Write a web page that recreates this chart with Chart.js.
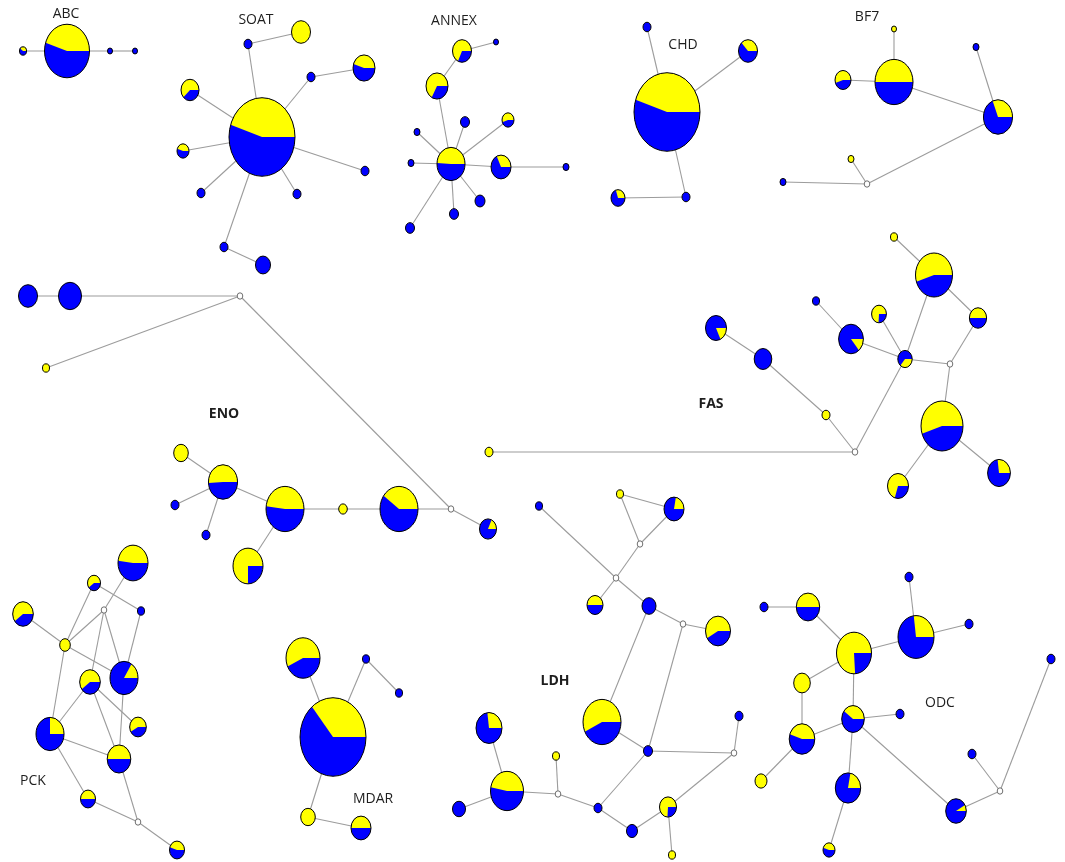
<!DOCTYPE html>
<html>
<head>
<meta charset="utf-8">
<title>Haplotype networks</title>
<script src="https://cdn.jsdelivr.net/npm/chart.js@4.4.1/dist/chart.umd.min.js"></script>
<style>
  html, body { margin: 0; padding: 0; background: #ffffff; }
  canvas { display: block; }
</style>
</head>
<body>
<canvas id="net" width="1065" height="862"></canvas>
<script>
// Haplotype networks, one per gene.
// Node rows: [x, y, size, yellow share (first sector), yellow share (last sector)]
// size 0 marks a median vector.

const ABC = [
  [67, 51, 22.5, 0.45, 0],
  [23, 51, 3.5, 0.4, 0],
  [110, 51, 2.5, 0, 0],
  [135, 51, 2.5, 0, 0]
];
const ABC_links = [[0,1],[0,2],[2,3]];

const SOAT = [
  [262, 137, 33, 0.45, 0],
  [248, 44, 4, 0, 0],
  [301, 32, 9.5, 1, 0],
  [311, 77, 4, 0, 0],
  [364, 68, 11, 0.45, 0],
  [190, 90, 9, 0.62, 0],
  [183, 151, 6, 0.45, 0],
  [201, 193, 4, 0, 0],
  [297, 194, 4, 0, 0],
  [365, 171, 4, 0, 0],
  [224, 247, 4, 0, 0],
  [263, 265, 7.5, 0, 0]
];
const SOAT_links = [[0,1],[1,2],[0,3],[3,4],[0,5],[0,6],[0,7],[0,8],[0,9],[0,10],[10,11]];

const ANNEX = [
  [451, 164, 14, 0.49, 0],
  [437, 86, 11, 0.67, 0],
  [462, 51, 9.5, 0.68, 0],
  [496, 42, 2.5, 0, 0],
  [465, 122, 4.5, 0, 0],
  [417, 132, 3, 0, 0],
  [508, 120, 6, 0.55, 0],
  [411, 163, 3, 0, 0],
  [501, 167, 10, 0.32, 0],
  [566, 167, 3, 0, 0],
  [480, 201, 5, 0, 0],
  [454, 214, 4.5, 0, 0],
  [410, 228, 4.5, 0, 0]
];
const ANNEX_links = [[0,1],[1,2],[2,3],[0,4],[0,5],[0,6],[0,7],[0,8],[8,9],[0,10],[0,11],[0,12]];

const CHD = [
  [667, 112, 33, 0.45, 0],
  [647, 27, 4, 0, 0],
  [748, 51, 9.5, 0.37, 0],
  [686, 197, 4, 0, 0],
  [618, 198, 7, 0.3, 0]
];
const CHD_links = [[0,1],[0,2],[0,3],[3,4]];

const BF7 = [
  [894, 82, 19, 0.5, 0],
  [894, 29, 2.5, 1, 0],
  [843, 80, 8, 0.55, 0],
  [998, 117, 14.5, 0.31, 0],
  [976, 47, 3, 0, 0],
  [867, 184, 0, 0, 0],
  [783, 182, 3, 0, 0],
  [851, 159, 3, 1, 0]
];
const BF7_links = [[0,1],[0,2],[0,3],[3,4],[3,5],[5,6],[5,7]];

const ENO = [
  [28, 296, 9.5, 0, 0],
  [70, 296, 11.5, 0, 0],
  [240, 296, 0, 0, 0],
  [46, 368, 3.5, 1, 0],
  [451, 509, 0, 0, 0],
  [488, 529, 8.5, 0.18, 0],
  [399, 509, 19, 0.4, 0],
  [343, 509, 4.3, 1, 0],
  [285, 509, 19, 0.48, 0],
  [223, 482, 14.5, 0.51, 0],
  [181, 453, 7.3, 1, 0],
  [175, 505, 4, 0, 0],
  [206, 535, 4, 0, 0],
  [248, 566, 15, 0.75, 0]
];
const ENO_links = [[0,1],[1,2],[2,3],[2,4],[4,5],[4,6],[6,7],[7,8],[8,9],[9,10],[9,11],[9,12],[8,13]];

const FAS = [
  [855, 452, 0, 0, 0],
  [489, 452, 4, 1, 0],
  [826, 415, 4, 1, 0],
  [763, 359, 8.8, 0, 0],
  [716, 328, 10.5, 0, 0.18],
  [905, 359, 7.2, 0, 0.36],
  [851, 339, 12.4, 0, 0.14],
  [816, 301, 3.5, 0, 0],
  [879, 314, 7.4, 0.74, 0],
  [934, 275, 18.5, 0.55, 0],
  [894, 237, 3.5, 1, 0],
  [978, 318, 8.6, 0.5, 0],
  [950, 364, 0, 0, 0],
  [942, 426, 21, 0.55, 0],
  [898, 486, 10.5, 0.7, 0],
  [999, 473, 11.4, 0.27, 0]
];
const FAS_links = [[0,1],[0,2],[2,3],[3,4],[0,5],[5,6],[6,7],[5,8],[5,9],[9,10],[9,11],[11,12],[5,12],[12,13],[13,14],[13,15]];

const LDH = [
  [539, 506, 3.5, 0, 0],
  [620, 494, 3.5, 1, 0],
  [674, 509, 10, 0.22, 0],
  [640, 544, 0, 0, 0],
  [616, 578, 0, 0, 0],
  [595, 605, 8, 0.5, 0],
  [649, 606, 7, 0, 0],
  [683, 624, 0, 0, 0],
  [718, 631, 12.5, 0.58, 0],
  [602, 722, 19, 0.57, 0],
  [648, 751, 4.5, 0, 0],
  [734, 753, 0, 0, 0],
  [739, 716, 4, 0, 0],
  [668, 807, 8.5, 0.74, 0],
  [672, 855, 3.5, 1, 0],
  [632, 831, 5.5, 0, 0],
  [598, 808, 4, 0, 0],
  [558, 794, 0, 0, 0],
  [556, 756, 3.5, 1, 0],
  [507, 791, 16.5, 0.47, 0],
  [489, 728, 13, 0.27, 0],
  [459, 809, 6.5, 0, 0]
];
const LDH_links = [[1,2],[1,3],[2,3],[3,4],[0,4],[4,5],[4,6],[6,7],[7,8],[6,9],[7,10],[9,10],[10,11],[11,12],[11,13],[13,14],[13,15],[15,16],[16,10],[16,17],[17,18],[17,19],[19,20],[19,21]];

const PCK = [
  [133, 563, 15, 0.48, 0],
  [94, 583, 6.5, 0.6, 0],
  [104, 610, 0, 0, 0],
  [141, 611, 3.5, 0, 0],
  [23, 614, 10.3, 0.6, 0],
  [65, 645, 5.3, 1, 0],
  [90, 682, 10.3, 0.6, 0],
  [124, 678, 14, 0.16, 0],
  [138, 727, 8.3, 0.58, 0],
  [50, 734, 14, 0.25, 0],
  [119, 759, 11.8, 0.5, 0],
  [88, 799, 7.5, 0.5, 0],
  [138, 822, 0, 0, 0],
  [177, 850, 7.5, 0.45, 0]
];
const PCK_links = [[0,2],[1,3],[1,5],[4,5],[5,2],[5,7],[2,7],[2,6],[3,7],[5,9],[6,9],[6,8],[6,10],[7,10],[9,10],[9,11],[11,12],[10,12],[12,13]];

const MDAR = [
  [333, 737, 33, 0.36, 0],
  [303, 658, 17, 0.57, 0],
  [366, 659, 3.5, 0, 0],
  [399, 693, 3.5, 0, 0],
  [308, 817, 7.3, 1, 0],
  [361, 828, 10, 0.5, 0]
];
const MDAR_links = [[0,1],[0,2],[2,3],[0,4],[4,5]];

const ODC = [
  [764, 607, 4, 0, 0],
  [808, 607, 11.7, 0.5, 0],
  [854, 653, 17.5, 0.76, 0],
  [916, 637, 18, 0.27, 0],
  [909, 577, 4, 0, 0],
  [969, 624, 4, 0, 0],
  [802, 683, 8.3, 1, 0],
  [853, 719, 11.3, 0.4, 0],
  [802, 739, 12.8, 0.45, 0],
  [761, 781, 6, 1, 0],
  [900, 714, 4, 0, 0],
  [848, 788, 12.7, 0.22, 0],
  [829, 850, 6, 0.45, 0],
  [956, 811, 10.3, 0.08, 0],
  [1000, 791, 0, 0, 0],
  [972, 754, 4, 0, 0],
  [1051, 659, 4, 0, 0]
];
const ODC_links = [[0,1],[1,2],[2,3],[3,4],[3,5],[2,6],[2,7],[6,8],[8,7],[8,9],[7,10],[7,11],[11,12],[7,13],[13,14],[14,15],[14,16]];

const geneNames = ['ABC', 'SOAT', 'ANNEX', 'CHD', 'BF7', 'ENO', 'FAS', 'LDH', 'PCK', 'MDAR', 'ODC'];
const labelX    = [66, 256, 454, 683, 867, 224, 711, 555, 33, 373, 940];
const labelY    = [14, 20, 21, 45, 17, 414, 404, 681, 781, 799, 703];
const labelBold = [0, 0, 0, 0, 0, 1, 1, 1, 0, 0, 0];

const networks = [
  [ABC, ABC_links], [SOAT, SOAT_links], [ANNEX, ANNEX_links], [CHD, CHD_links],
  [BF7, BF7_links], [ENO, ENO_links], [FAS, FAS_links], [LDH, LDH_links],
  [PCK, PCK_links], [MDAR, MDAR_links], [ODC, ODC_links]
];

const YELLOW = '#ffff00';
const BLUE = '#0000ff';
const LINK_COLOR = '#9c9c9c';
const ASPECT = 1.19; // nodes are drawn as upright ellipses

const datasets = [];
networks.forEach(([nodes, links]) => {
  links.forEach(([a, b]) => {
    datasets.push({
      type: 'line',
      data: [{ x: nodes[a][0], y: nodes[a][1] }, { x: nodes[b][0], y: nodes[b][1] }],
      borderColor: LINK_COLOR,
      borderWidth: 1.1,
      pointRadius: 0,
      tension: 0,
      fill: false,
      clip: false
    });
  });
});
networks.forEach(([nodes]) => {
  datasets.push({
    type: 'bubble',
    data: nodes.map(n => ({ x: n[0], y: n[1], r: n[2], ya: n[3], yb: n[4] })),
    backgroundColor: 'rgba(0,0,0,0)',
    borderColor: 'rgba(0,0,0,0)',
    borderWidth: 0,
    clip: false
  });
});

function drawPie(ctx, x, y, rx, ya, yb) {
  const ry = rx * ASPECT;
  const TAU = Math.PI * 2;
  const blue = 1 - ya - yb;
  ctx.save();
  // base colour
  ctx.beginPath();
  ctx.ellipse(x, y, rx, ry, 0, 0, TAU);
  ctx.fillStyle = blue > 0.001 ? BLUE : YELLOW;
  ctx.fill();
  // yellow sectors, counter-clockwise from three o'clock
  if (blue > 0.001) {
    const sectors = [[0, ya], [1 - yb, 1]];
    sectors.forEach(([s, e]) => {
      if (e - s < 0.001) return;
      ctx.beginPath();
      ctx.moveTo(x, y);
      ctx.ellipse(x, y, rx, ry, 0, -s * TAU, -e * TAU, true);
      ctx.closePath();
      ctx.fillStyle = YELLOW;
      ctx.fill();
    });
  }
  ctx.beginPath();
  ctx.ellipse(x, y, rx, ry, 0, 0, TAU);
  ctx.lineWidth = 1;
  ctx.strokeStyle = '#000000';
  ctx.stroke();
  ctx.restore();
}

function drawMedian(ctx, x, y) {
  ctx.save();
  ctx.beginPath();
  ctx.ellipse(x, y, 2.8, 3.2, 0, 0, Math.PI * 2);
  ctx.fillStyle = '#ffffff';
  ctx.fill();
  ctx.lineWidth = 1;
  ctx.strokeStyle = '#6e6e6e';
  ctx.stroke();
  ctx.restore();
}

const piePlugin = {
  id: 'pieNodes',
  afterDatasetsDraw(chart) {
    const ctx = chart.ctx;
    chart.data.datasets.forEach((ds, i) => {
      if (ds.type !== 'bubble') return;
      const meta = chart.getDatasetMeta(i);
      meta.data.forEach((el, j) => {
        const d = ds.data[j];
        if (d.r === 0) drawMedian(ctx, el.x, el.y);
        else drawPie(ctx, el.x, el.y, d.r, d.ya, d.yb);
      });
    });
  }
};

const labelPlugin = {
  id: 'geneLabels',
  afterDraw(chart) {
    const ctx = chart.ctx;
    const xs = chart.scales.x, ys = chart.scales.y;
    ctx.save();
    ctx.textAlign = 'center';
    ctx.textBaseline = 'middle';
    ctx.fillStyle = '#1e1e1e';
    geneNames.forEach((name, i) => {
      ctx.font = (labelBold[i] ? 'bold ' : '') + '14px "Open Sans", sans-serif';
      ctx.fillText(name, xs.getPixelForValue(labelX[i]), ys.getPixelForValue(labelY[i]));
    });
    ctx.restore();
  }
};

new Chart(document.getElementById('net'), {
  type: 'scatter',
  data: { datasets },
  options: {
    responsive: false,
    devicePixelRatio: 1,
    animation: false,
    events: [],
    layout: { padding: 0, autoPadding: false },
    scales: {
      x: { type: 'linear', min: 0, max: 1065, display: false },
      y: { type: 'linear', min: 0, max: 862, reverse: true, display: false }
    },
    plugins: { legend: { display: false }, tooltip: { enabled: false } }
  },
  plugins: [piePlugin, labelPlugin]
});
</script>
</body>
</html>
